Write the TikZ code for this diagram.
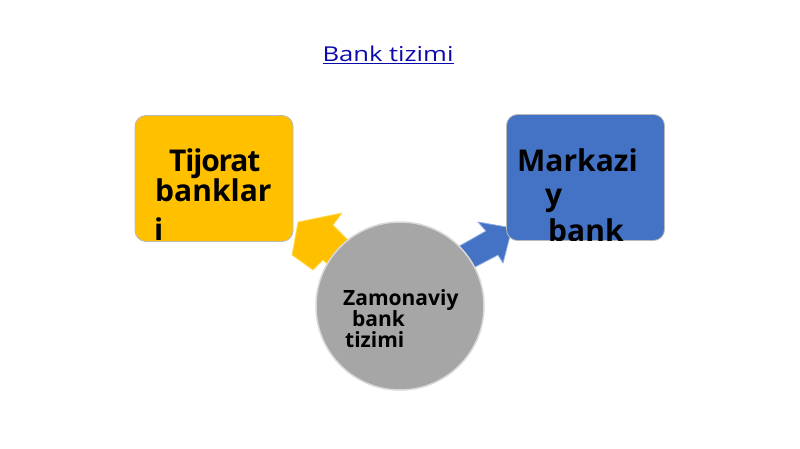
\documentclass[tikz,border=0pt]{standalone}
\usepackage{fontspec}
\setmainfont{Open Sans}
\newfontfamily\titlefont[FakeStretch=1.25]{Open Sans}
\newfontfamily\tightfont[LetterSpace=-4]{Open Sans}
\usetikzlibrary{positioning}
\definecolor{amber}{RGB}{255, 192, 0}
\definecolor{amberlight}{RGB}{255, 220, 90}
\definecolor{royal}{RGB}{68, 114, 196}
\definecolor{royallight}{RGB}{140, 170, 225}
\definecolor{hubgray}{RGB}{166, 166, 166}
\definecolor{linkblue}{RGB}{10, 10, 170}

\begin{document}
\begin{tikzpicture}[x=1pt, y=-1pt,
    box/.style={draw=gray!55, line width=0.8pt, rounded corners=11pt, inner sep=0pt, minimum width=158pt, minimum height=126pt},
    boxtext/.style={font=\bfseries\fontsize{30}{30}\selectfont, inner sep=0pt, anchor=base west},
    hubtext/.style={font=\bfseries\fontsize{21}{21}\selectfont, inner sep=0pt, anchor=base west}]
            \useasboundingbox[fill=white] (0,0) rectangle (800,449);
            % heading
            \node[font=\titlefont\fontsize{20.5}{24}\selectfont, text=linkblue, inner sep=0pt, anchor=base] (titel) at (388,62) {\underline{Bank tizimi}};
            % block arrows (under the circle and the boxes)
            \filldraw[amberlight, fill=amber, line width=0.8pt, line join=round]
                 (298,222) -- (342,213) -- (333,225) -- (362,254) -- (340,276) -- (323,260) -- (313,270) -- (292,255) -- cycle;
            \filldraw[royallight, fill=royal, line width=0.8pt, line join=round]
                 (478,222) -- (512,228) -- (503,263) -- (498,255) -- (450,280) -- (440,257) -- (486,231) -- cycle;
            % centre circle
            \node[circle, fill=hubgray, draw=gray!30, line width=1.5pt, minimum size=168pt, inner sep=0pt] (hub) at (400,306) {};
            \node[hubtext] (hubA) at (343,305) {Zamonaviy};
            \node[hubtext] (hubB) at (352,326) {bank};
            \node[hubtext] (hubC) at (345,347) {tizimi};
            % the two boxes
            \node[box, fill=amber] (tijorat) at (214,178.5) {};
            \node[box, fill=royal] (markazi) at (585.5,177.5) {};
            \begin{scope}
                \clip[rounded corners=11pt] (tijorat.south west) rectangle (tijorat.north east);
                \node[boxtext, font=\tightfont\bfseries\fontsize{30}{30}\selectfont] (tijA) at (169,172) {Tijorat};
                \node[boxtext] (tijB) at (155,202) {banklar};
                \node[boxtext] (tijC) at (154,240) {i};
            \end{scope}
            \begin{scope}
                \clip[rounded corners=11pt] (markazi.south west) rectangle (markazi.north east);
                \node[boxtext] (marA) at (517,172) {Markazi};
                \node[boxtext] (marB) at (545,206) {y};
                \node[boxtext] (marC) at (548,241) {bank};
            \end{scope}
\end{tikzpicture}
\end{document}
